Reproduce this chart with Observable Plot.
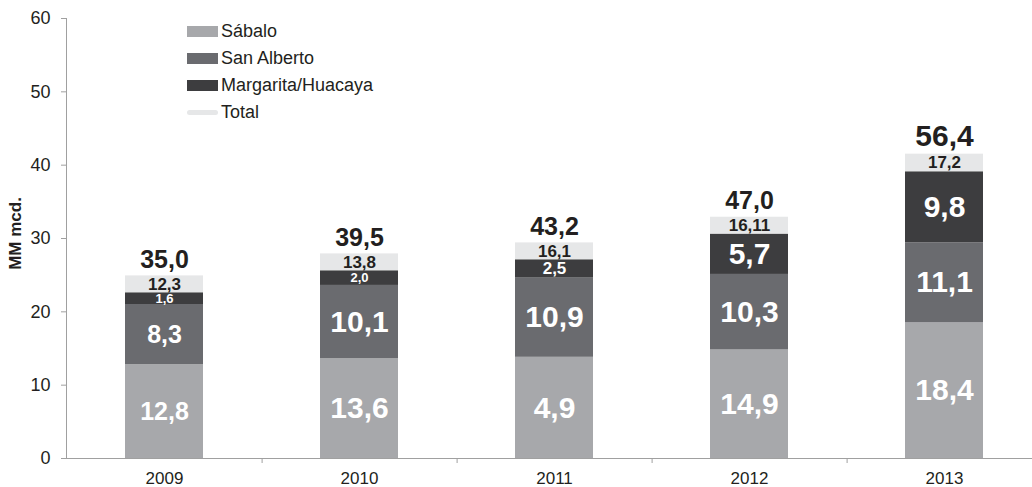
<!DOCTYPE html>
<html><head><meta charset="utf-8">
<script src="https://cdn.jsdelivr.net/npm/d3@7"></script>
<script src="https://cdn.jsdelivr.net/npm/@observablehq/plot@0.6"></script>
<style>
body{margin:0;background:#fff;}
#wrap{position:relative;width:1032px;height:487px;font-family:"Liberation Sans",Arial,sans-serif;}
.legend{position:absolute;left:187px;top:18px;}
.row{display:flex;align-items:center;height:27px;font-size:18px;color:#231f20;}
.sw{width:31px;height:11px;margin-right:3px;}
.sw.line{height:5px;border-radius:3px;}
</style></head><body><div id="wrap"></div>
<script>
const years = ["2009", "2010", "2011", "2012", "2013"];
const seriesNames = ["Sábalo", "San Alberto", "Margarita/Huacaya", "Total"];
// segment heights as drawn
const sabalo = [12.8, 13.6, 13.8, 14.8, 18.5];
const sanAlberto = [8.2, 10.0, 10.8, 10.3, 10.9];
const margarita = [1.6, 2.0, 2.5, 5.5, 9.7];
const totalSeg = [2.3, 2.3, 2.3, 2.3, 2.4];
// labels as printed
const sabaloLabels = ["12,8", "13,6", "4,9", "14,9", "18,4"];
const sanAlbertoLabels = ["8,3", "10,1", "10,9", "10,3", "11,1"];
const margaritaLabels = ["1,6", "2,0", "2,5", "5,7", "9,8"];
const totalSegLabels = ["12,3", "13,8", "16,1", "16,11", "17,2"];
const grandTotalLabels = ["35,0", "39,5", "43,2", "47,0", "56,4"];
const yTicks = [0, 10, 20, 30, 40, 50, 60];

const colors = ["#a7a8ab", "#6a6b6f", "#3d3d3f", "#e6e7e8"];
const seriesValues = [sabalo, sanAlberto, margarita, totalSeg];
const seriesLabels = [sabaloLabels, sanAlbertoLabels, margaritaLabels, totalSegLabels];

const rows = [];
const tops = [];
years.forEach((year, i) => {
  let base = 0;
  seriesNames.forEach((s, k) => {
    const v = seriesValues[k][i];
    rows.push({year, series: s, k, i, value: v, y1: base, y2: base + v, mid: base + v / 2, label: seriesLabels[k][i]});
    base += v;
  });
  tops.push({year, i, top: base, label: grandTotalLabels[i]});
});

function labelSize(d) {
  if (d.k === 3) return 17;
  if (d.k === 2 && d.value < 2.2) return 13;
  if (d.k === 2 && d.value < 3) return 17;
  if (d.i === 0) return 25;
  return 30;
}

const chart = Plot.plot({
  width: 1032, height: 487,
  marginLeft: 66, marginRight: 0, marginTop: 18, marginBottom: 29,
  style: {fontFamily: "'Liberation Sans', Arial, sans-serif", background: "#fff", overflow: "hidden"},
  x: {domain: years, range: [66, 1042], paddingInner: 0.6, paddingOuter: 0.3, axis: null},
  y: {domain: [0, 60], axis: null},
  color: {domain: seriesNames, range: colors},
  marks: [
    Plot.barY(rows, {x: "year", y1: "y1", y2: "y2", fill: "series"}),
    Plot.frame({anchor: "left", stroke: "#a0a0a0"}),
    Plot.ruleY([0], {stroke: "#a0a0a0"}),
    Plot.axisY({ticks: yTicks, tickSize: 5, tickPadding: 11, fontSize: 18, stroke: "#a0a0a0", fill: "#231f20", tickFormat: d => String(d), label: null}),
    Plot.axisX({tickSize: 0, tickPadding: 13, fontSize: 17, fill: "#231f20", label: null}),
    Plot.axisX({tickSize: 5, dx: 97.6, tickFormat: () => "", stroke: "#a0a0a0", label: null}),
    Plot.text(rows, {x: "year", y: "mid", text: "label", fill: d => d.k === 3 ? "#231f20" : "#fff",
      fontWeight: "bold", fontSize: labelSize}),
    Plot.text(tops, {x: "year", y: "top", text: "label", fill: "#231f20", fontWeight: "bold",
      fontSize: d => d.i === 4 ? 30 : 25, lineAnchor: "bottom", dy: -8}),
    Plot.text(["MM mcd."], {frameAnchor: "left", textAnchor: "middle", rotate: -90, dx: -51, dy: -5, fontWeight: "bold", fontSize: 17, fill: "#231f20"})
  ]
});

const wrap = document.getElementById("wrap");
wrap.appendChild(chart);
const legend = document.createElement("div");
legend.className = "legend";
seriesNames.forEach((s, k) => {
  const row = document.createElement("div");
  row.className = "row";
  const sw = document.createElement("span");
  sw.className = "sw" + (k === 3 ? " line" : "");
  sw.style.background = colors[k];
  const t = document.createElement("span");
  t.textContent = s;
  row.appendChild(sw); row.appendChild(t);
  legend.appendChild(row);
});
wrap.appendChild(legend);
</script>
</body></html>
